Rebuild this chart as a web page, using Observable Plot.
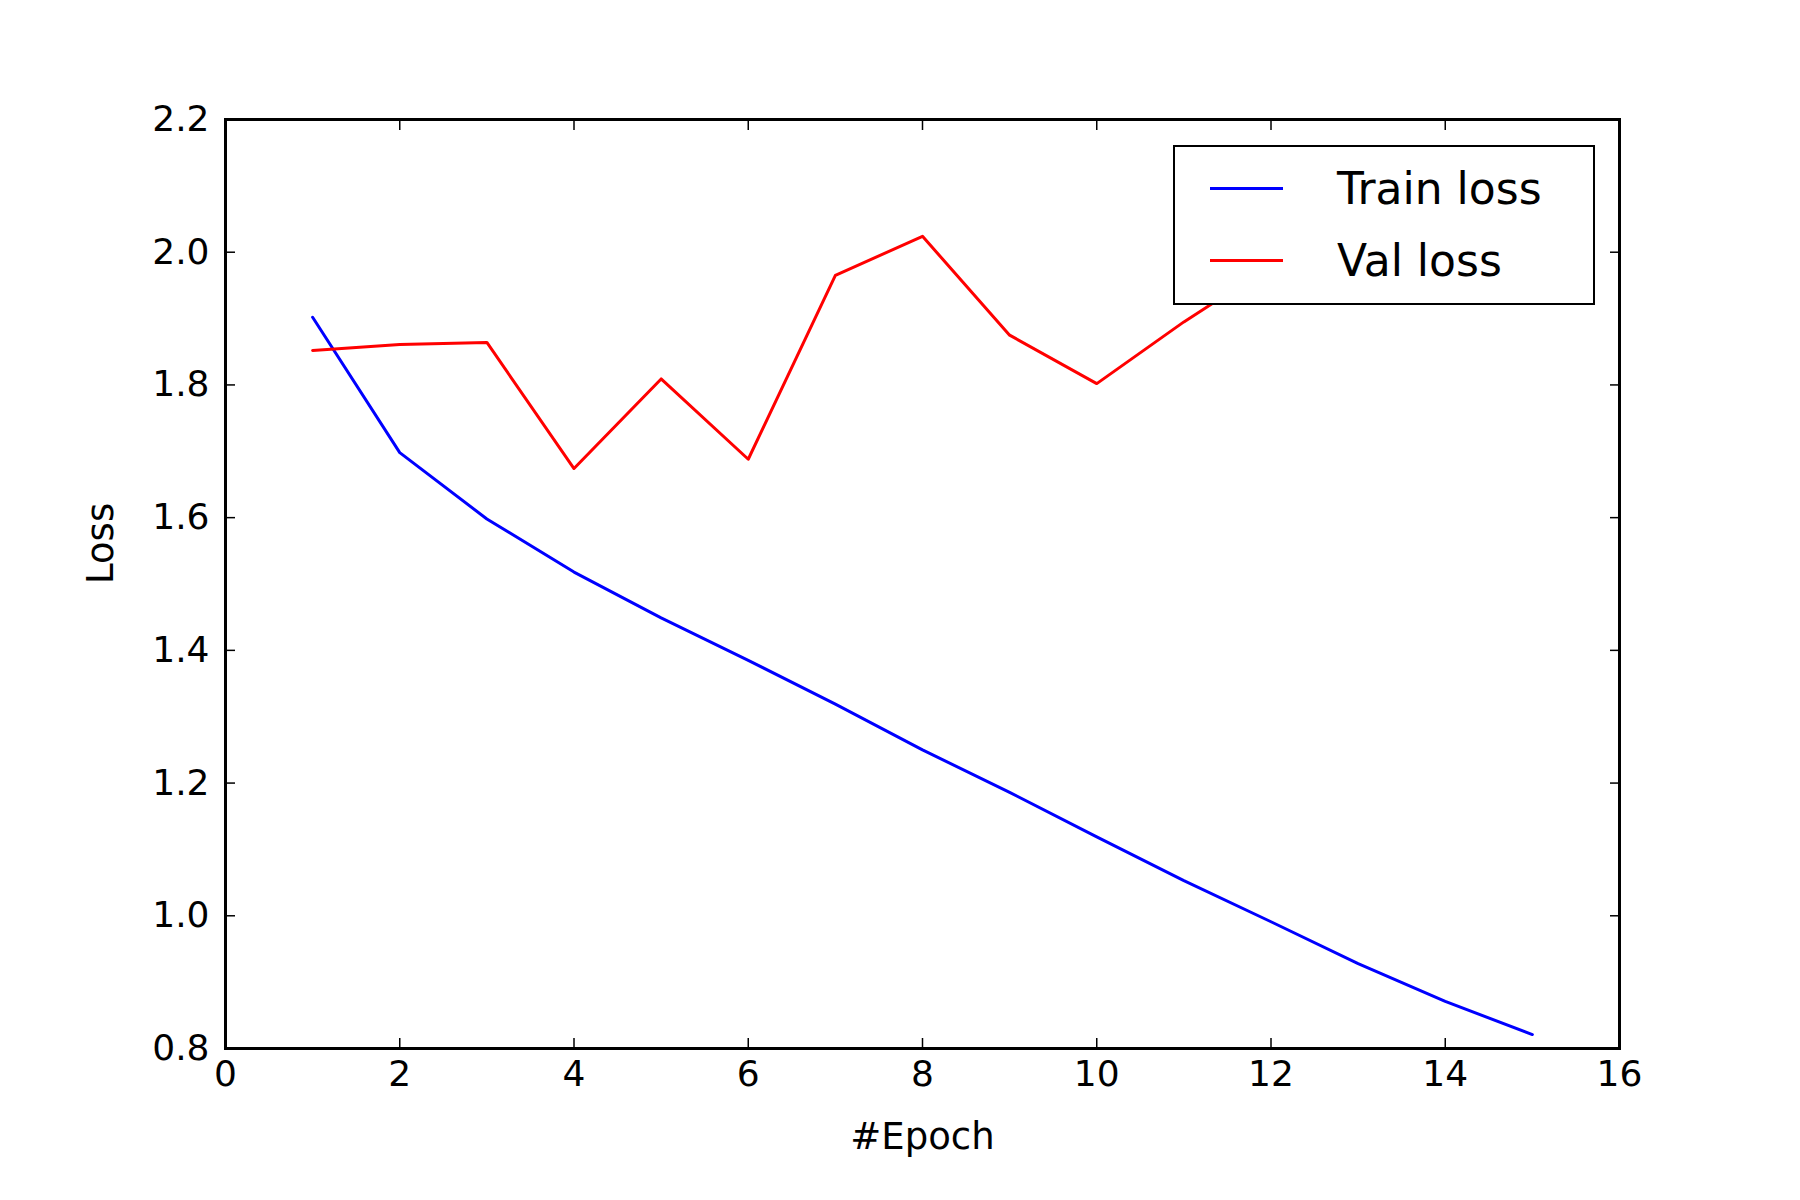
<!DOCTYPE html>
<html><head><meta charset="utf-8">
<script src="https://cdn.jsdelivr.net/npm/d3@7"></script>
<script src="https://cdn.jsdelivr.net/npm/@observablehq/plot@0.6"></script>
<style>
body{margin:0;background:#fff;font-family:"DejaVu Sans",sans-serif}
#wrap{position:relative;width:1800px;height:1200px}
#legend{position:absolute;left:1173px;top:145px;width:418px;height:156px;border:2.5px solid #000;background:#fff;font-size:44px}
.row{position:absolute;left:0;height:50px;display:flex;align-items:center}
.sw{width:73px;height:0;border-top:3px solid;margin-left:35px;margin-right:54px}
</style></head><body>
<div id="wrap"><div id="chart"></div>
<div id="legend">
<div class="row" style="top:16px"><span class="sw" style="border-color:#0000ff"></span>Train loss</div>
<div class="row" style="top:88px"><span class="sw" style="border-color:#ff0000"></span>Val loss</div>
</div></div>
<script>
const epochs = [1,2,3,4,5,6,7,8,9,10,11,12,13,14,15];
const trainLoss = [1.902,1.698,1.598,1.518,1.449,1.385,1.319,1.250,1.186,1.119,1.053,0.991,0.928,0.871,0.821];
// epochs 12-15 of val loss are hidden behind the legend in the reference; estimated
const valLoss = [1.852,1.861,1.864,1.674,1.809,1.688,1.965,2.024,1.875,1.802,1.895,1.98,2.04,2.08,2.10];
const xTicks = [0,2,4,6,8,10,12,14,16];
const yTicks = [0.8,1.0,1.2,1.4,1.6,1.8,2.0,2.2];

const train = epochs.map((e,i)=>({e, v: trainLoss[i]}));
const val = epochs.map((e,i)=>({e, v: valLoss[i]}));

const plot = Plot.plot({
  width: 1800, height: 1200,
  marginLeft: 225, marginRight: 181, marginTop: 119, marginBottom: 152,
  style: {fontFamily: '"DejaVu Sans", sans-serif', fontSize: 36, color: "#000", background: "#fff"},
  x: {domain: [0,16]},
  y: {domain: [0.8,2.2]},
  marks: [
    Plot.line(train, {x: "e", y: "v", stroke: "#0000ff", strokeWidth: 3}),
    Plot.line(val, {x: "e", y: "v", stroke: "#ff0000", strokeWidth: 3}),
    Plot.axisX(xTicks, {anchor: "bottom", tickSize: -10, tickPadding: 22, strokeWidth: 1.5, label: null}),
    Plot.axisX(xTicks, {anchor: "top", tickSize: -10, tickFormat: () => "", strokeWidth: 1.5, label: null}),
    Plot.axisY(yTicks, {anchor: "left", tickSize: -10, tickPadding: 26, tickFormat: d3.format(".1f"), strokeWidth: 1.5, label: null}),
    Plot.axisY(yTicks, {anchor: "right", tickSize: -10, tickFormat: () => "", strokeWidth: 1.5, label: null}),
    Plot.frame({stroke: "#000", strokeWidth: 3}),
    Plot.text(["#Epoch"], {frameAnchor: "bottom", dy: 100, fontSize: 37}),
    Plot.text(["Loss"], {frameAnchor: "left", dx: -124, rotate: -90, fontSize: 37})
  ]
});
document.getElementById("chart").append(plot);
</script></body></html>
